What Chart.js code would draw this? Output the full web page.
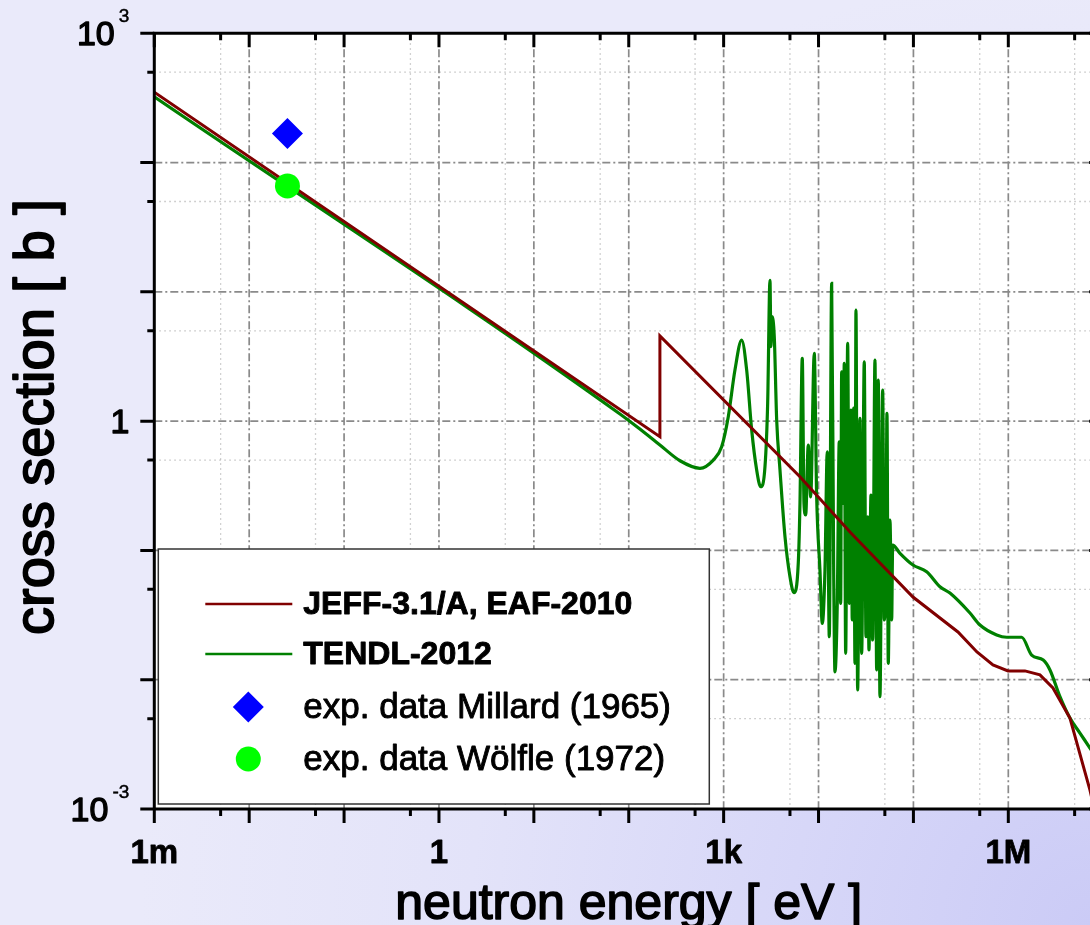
<!DOCTYPE html>
<html>
<head>
<meta charset="utf-8">
<title>Capture cross section</title>
<script src="https://cdn.jsdelivr.net/npm/chart.js@4.4.1/dist/chart.umd.min.js"></script>
<style>
  html, body { margin: 0; padding: 0; width: 1090px; height: 925px; overflow: hidden; }
  body { background: radial-gradient(circle at 100% 100%, #cbcbf6 0px, #d7d7f8 300px, #e3e3f9 620px, #eaeafa 950px); }
  canvas { display: block; }
</style>
</head>
<body>
<canvas id="xs" width="1120" height="925"></canvas>
<script>
  // JEFF-3.1/A, EAF-2010 evaluation (energy in eV, cross section in b)
  var jeffEnergy = [1e-3, 213, 213, 6370, 21450, 98900, 294700, 467200, 689000, 992000,
    1497000, 2155000, 2955000, 4462000, 7253000, 1e7];
  var jeffXs = [350, 0.758, 4.56, 0.372, 0.139, 0.0436, 0.0234, 0.0164, 0.0130, 0.0117,
    0.0117, 0.0109, 0.00863, 0.00505, 0.00140, 0.0005];

  // TENDL-2012 evaluation
  var tendlEnergy = [1e-3, 80.8, 131, 213, 347, 563, 778, 953, 1119, 1316,
    1549, 1748, 1975, 2229, 2457, 2727, 2911, 3078, 3153, 3230,
    3417, 3622, 3925, 4431, 5001, 5510, 6115, 6373, 6741, 7025,
    7321, 7795, 8265, 9016, 9556, 10350, 10950, 11690, 12360, 12980,
    13750, 14440, 14900, 15760, 16540, 17110, 17530, 18220, 18670, 19320,
    20280, 21080, 21970, 22670, 23460, 24210, 24800, 25840, 27330, 28480,
    30340, 31620, 32950, 34010, 35700, 37200, 39330, 40990, 42610, 44400,
    47420, 49300, 51380, 52630, 54320, 56610, 58990, 60430, 72180, 98900,
    137900, 190400, 242700, 394400, 502600, 754200, 960700, 1383000, 1762000, 2335000,
    2748000, 3502000, 4462000, 5689000, 7253000, 1e7];
  var tendlXs = [323, 1.137, 0.869, 0.654, 0.494, 0.432, 0.500, 0.634, 1.082, 2.49,
    4.24, 2.49, 0.854, 0.419, 0.311, 0.444, 1.38, 12.3, 3.77, 6.43,
    4.50, 1.02, 0.419, 0.128, 0.0626, 0.0471, 0.0795, 0.231, 3.06, 0.231,
    0.188, 0.654, 0.260, 3.35, 0.260, 0.0706, 0.0273, 0.0706, 0.580, 0.0215,
    11.65, 0.0706, 0.0115, 0.039, 0.693, 0.039, 2.41, 0.231, 2.80, 0.016,
    4.00, 0.039, 1.22, 0.029, 1.26, 0.0134, 7.24, 0.00833, 1.05, 0.016,
    2.88, 0.0215, 0.182, 0.0170, 0.268, 0.0203, 2.97, 0.0119, 2.08, 0.00739,
    1.74, 0.029, 0.0894, 1.15, 0.0134, 0.172, 0.029, 0.110, 0.0950, 0.0771,
    0.0684, 0.0524, 0.0468, 0.0328, 0.0265, 0.0222, 0.0213, 0.0213, 0.0155, 0.0142,
    0.0119, 0.00739, 0.00505, 0.00387, 0.00296, 0.00209];

  // thermal point measurements
  var millardEnergy = [0.0253];
  var millardXs = [168];
  var woelfleEnergy = [0.0253];
  var woelfleXs = [66];

  // axis ticks
  var xMajorTicks = [1e-3, 1e-2, 1e-1, 1, 10, 100, 1e3, 1e4, 1e5, 1e6, 1e7];
  var xMinorTicks = [5e-3, 5e-2, 0.5, 5, 50, 500, 5e3, 5e4, 5e5, 5e6];
  var yMajorTicks = [1e-3, 1e-2, 1e-1, 1, 10, 100, 1e3];
  var yMinorTicks = [5e-3, 5e-2, 0.5, 5, 50, 500];
  var xLabelValues = [1e-3, 1, 1e3, 1e6];
  var xLabelTexts = ['1m', '1', '1k', '1M'];
  var yLabelValues = [1e-3, 1, 1e3];
  var yLabelBase = ['10', '1', '10'];
  var yLabelExp = ['-3', '', '3'];

  var FONT = '"Liberation Sans", Arial, sans-serif';

  function pairs(xs, ys) {
    return xs.map(function (v, i) { return {x: v, y: ys[i]}; });
  }

  // filled text with a thin outline so the glyphs come out a little heavier
  function heavyText(ctx, text, x, y, weight) {
    ctx.fillText(text, x, y);
    if (weight > 0) {
      ctx.lineWidth = weight;
      ctx.lineJoin = 'round';
      ctx.strokeStyle = ctx.fillStyle;
      ctx.strokeText(text, x, y);
    }
  }

  function drawMarker(ctx, style, r, cx, cy, color) {
    ctx.fillStyle = color;
    ctx.beginPath();
    if (style === 'rectRot') {
      ctx.moveTo(cx - r, cy);
      ctx.lineTo(cx, cy - r);
      ctx.lineTo(cx + r, cy);
      ctx.lineTo(cx, cy + r);
      ctx.closePath();
    } else {
      ctx.arc(cx, cy, r, 0, Math.PI * 2);
    }
    ctx.fill();
  }

  // plot background, grid, frame, ticks, labels and legend
  var framePlugin = {
    id: 'frame',
    beforeDatasetsDraw: function (chart) {
      var ctx = chart.ctx, a = chart.chartArea;
      var xs = chart.scales.x, ys = chart.scales.y;
      ctx.save();
      ctx.fillStyle = '#ffffff';
      ctx.fillRect(a.left, a.top, a.right - a.left, a.bottom - a.top);

      ctx.lineWidth = 1.3;
      ctx.strokeStyle = '#c2c2c2';
      ctx.setLineDash([1.5, 3.5]);
      ctx.beginPath();
      xMinorTicks.forEach(function (v) {
        var px = xs.getPixelForValue(v);
        ctx.moveTo(px, a.top); ctx.lineTo(px, a.bottom);
      });
      yMinorTicks.forEach(function (v) {
        var py = ys.getPixelForValue(v);
        ctx.moveTo(a.left, py); ctx.lineTo(a.right, py);
      });
      ctx.stroke();

      ctx.lineWidth = 1.7;
      ctx.strokeStyle = '#8a8a8a';
      ctx.setLineDash([8, 3, 2, 3]);
      ctx.beginPath();
      xMajorTicks.slice(1, -1).forEach(function (v) {
        var px = xs.getPixelForValue(v);
        ctx.moveTo(px, a.top); ctx.lineTo(px, a.bottom);
      });
      yMajorTicks.slice(1, -1).forEach(function (v) {
        var py = ys.getPixelForValue(v);
        ctx.moveTo(a.left, py); ctx.lineTo(a.right, py);
      });
      ctx.stroke();
      ctx.restore();
    },
    afterDatasetsDraw: function (chart) {
      var ctx = chart.ctx, a = chart.chartArea;
      var xs = chart.scales.x, ys = chart.scales.y;
      var ds = chart.data.datasets;
      ctx.save();

      // legend
      var bw = 551, bh = 255;
      var bx = a.left + 4, by = a.bottom - 5 - bh;
      ctx.fillStyle = '#ffffff';
      ctx.fillRect(bx, by, bw, bh);
      ctx.strokeStyle = '#333333';
      ctx.lineWidth = 1.5;
      ctx.strokeRect(bx, by, bw, bh);
      var rows = [
        {d: ds[2], dy: 55, font: 'bold 32px '},
        {d: ds[3], dy: 105, font: 'bold 32px '},
        {d: ds[0], dy: 158, font: '35px '},
        {d: ds[1], dy: 210, font: '35px '}
      ];
      ctx.textBaseline = 'middle';
      ctx.textAlign = 'left';
      rows.forEach(function (r) {
        var ry = by + r.dy;
        if (r.d.showLine) {
          ctx.strokeStyle = r.d.borderColor;
          ctx.lineWidth = 2.5;
          ctx.beginPath();
          ctx.moveTo(bx + 47, ry); ctx.lineTo(bx + 134, ry);
          ctx.stroke();
        } else {
          drawMarker(ctx, r.d.pointStyle, r.d.pointRadius, bx + 90, ry, r.d.backgroundColor);
        }
        ctx.fillStyle = '#000000';
        ctx.font = r.font + FONT;
        heavyText(ctx, r.d.label, bx + 145, ry + 1, 0.9);
      });

      // axis lines
      ctx.strokeStyle = '#000000';
      ctx.lineWidth = 3;
      ctx.lineCap = 'square';
      ctx.beginPath();
      ctx.moveTo(a.left, a.top); ctx.lineTo(a.left, a.bottom);
      ctx.lineTo(a.right, a.bottom); ctx.lineTo(a.right, a.top);
      ctx.lineTo(a.left, a.top);
      ctx.stroke();

      // ticks: outward on bottom/left, inward on top/right
      ctx.lineCap = 'butt';
      ctx.beginPath();
      function xTick(v, len) {
        var px = xs.getPixelForValue(v);
        ctx.moveTo(px, a.bottom); ctx.lineTo(px, a.bottom + len);
        ctx.moveTo(px, a.top); ctx.lineTo(px, a.top + len);
      }
      function yTick(v, len) {
        var py = ys.getPixelForValue(v);
        ctx.moveTo(a.left - len, py); ctx.lineTo(a.left, py);
        ctx.moveTo(a.right - len, py); ctx.lineTo(a.right, py);
      }
      xMajorTicks.forEach(function (v) { xTick(v, 14); });
      xMinorTicks.forEach(function (v) { xTick(v, 7); });
      yMajorTicks.forEach(function (v) { yTick(v, 14); });
      yMinorTicks.forEach(function (v) { yTick(v, 7); });
      ctx.stroke();

      // tick labels
      ctx.fillStyle = '#000000';
      ctx.font = 'bold 33px ' + FONT;
      ctx.textAlign = 'center';
      ctx.textBaseline = 'alphabetic';
      xLabelValues.forEach(function (v, i) {
        heavyText(ctx, xLabelTexts[i], xs.getPixelForValue(v), a.bottom + 54, 0.8);
      });

      yLabelValues.forEach(function (v, i) {
        var py = ys.getPixelForValue(v);
        var right = a.left - 25;
        ctx.textAlign = 'right';
        if (yLabelExp[i]) {
          ctx.font = '19px ' + FONT;
          var ew = ctx.measureText(yLabelExp[i]).width;
          heavyText(ctx, yLabelExp[i], right, py - 11, 0.5);
          right -= ew + 4;
        }
        ctx.font = '34px ' + FONT;
        heavyText(ctx, yLabelBase[i], right, py + 12, 1.3);
      });

      // axis titles
      ctx.textAlign = 'center';
      ctx.font = '50px ' + FONT;
      heavyText(ctx, 'neutron energy [ eV ]', (a.left + a.right) / 2, a.bottom + 110, 1.6);

      ctx.translate(53, (a.top + a.bottom) / 2 - 4);
      ctx.rotate(-Math.PI / 2);
      ctx.font = '56px ' + FONT;
      heavyText(ctx, 'cross section [ b ]', 0, 0, 1.8);
      ctx.restore();
    }
  };

  var canvas = document.getElementById('xs');
  var plotRight = 1103.2;

  new Chart(canvas.getContext('2d'), {
    type: 'scatter',
    data: {
      datasets: [
        {
          label: 'exp. data Millard (1965)',
          data: pairs(millardEnergy, millardXs),
          pointStyle: 'rectRot', pointRadius: 15.5, pointHoverRadius: 15.5,
          backgroundColor: '#0000ff', borderWidth: 0, order: 0
        },
        {
          label: 'exp. data W\u00f6lfle (1972)',
          data: pairs(woelfleEnergy, woelfleXs),
          pointStyle: 'circle', pointRadius: 12.5, pointHoverRadius: 12.5,
          backgroundColor: '#00ff00', borderWidth: 0, order: 0
        },
        {
          label: 'JEFF-3.1/A, EAF-2010',
          data: pairs(jeffEnergy, jeffXs),
          showLine: true, borderColor: '#800000', borderWidth: 3,
          pointRadius: 0, pointHoverRadius: 0, tension: 0, order: 1
        },
        {
          label: 'TENDL-2012',
          data: pairs(tendlEnergy, tendlXs),
          showLine: true, borderColor: '#008000', borderWidth: 3.2,
          cubicInterpolationMode: 'monotone',
          pointRadius: 0, pointHoverRadius: 0, order: 2
        }
      ]
    },
    options: {
      responsive: false,
      animation: false,
      devicePixelRatio: 1,
      events: [],
      layout: { padding: { top: 33.3, right: canvas.width - plotRight, left: 0, bottom: 0 } },
      plugins: { legend: { display: false }, tooltip: { enabled: false } },
      scales: {
        x: {
          type: 'logarithmic', min: 1e-3, max: 1e7,
          grid: { display: false }, border: { display: false }, ticks: { display: false },
          afterFit: function (s) { s.height = 116; }
        },
        y: {
          type: 'logarithmic', min: 1e-3, max: 1e3,
          grid: { display: false }, border: { display: false }, ticks: { display: false },
          afterFit: function (s) { s.width = 154.3; }
        }
      }
    },
    plugins: [framePlugin]
  });
</script>
</body>
</html>
